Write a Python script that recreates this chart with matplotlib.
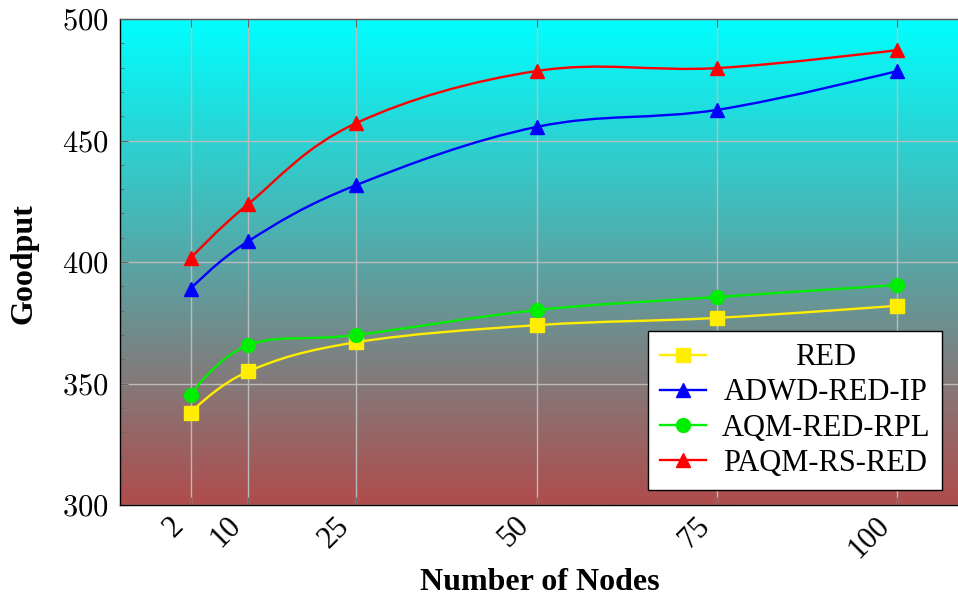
import numpy as np
import matplotlib.pyplot as plt
import matplotlib.transforms as mtransforms
from matplotlib.path import Path
from matplotlib.patches import PathPatch
from matplotlib.colors import LinearSegmentedColormap

plt.rcParams['font.family'] = ['Liberation Serif', 'DejaVu Serif']
plt.rcParams['mathtext.fontset'] = 'cm'

# Data
nodes = [2, 10, 25, 50, 75, 100]
red = [338, 355, 367, 374, 377, 382]
adwd = [389, 408.6, 431.7, 455.6, 462.6, 478.6]
aqm = [345.3, 365.8, 370, 380.2, 385.6, 390.5]
paqm = [401.6, 423.9, 457.2, 478.6, 479.8, 487.2]
names = ['RED', 'ADWD-RED-IP', 'AQM-RED-RPL', 'PAQM-RS-RED']
yticks = [300, 350, 400, 450, 500]


def smooth_path(x, y, tension=0.55):
    """Cubic bezier through the points, like pgfplots 'smooth'."""
    p = np.column_stack([x, y]).astype(float)
    k = tension / 3.0
    verts = [p[0]]
    codes = [Path.MOVETO]
    for i in range(len(p) - 1):
        d0 = p[min(i + 1, len(p) - 1)] - p[max(i - 1, 0)]
        d1 = p[min(i + 2, len(p) - 1)] - p[i]
        c1 = p[i] + k * d0 if i > 0 else p[i]
        c2 = p[i + 1] - k * d1 if i + 1 < len(p) - 1 else p[i + 1]
        verts += [c1, c2, p[i + 1]]
        codes += [Path.CURVE4] * 3
    return Path(verts, codes)


fig = plt.figure(figsize=(9.58, 6.01), dpi=100)
ax = fig.add_axes([120 / 958, 1 - 505 / 601, 840 / 958, 486 / 601])
ax.set_xlim(-7.8, 108.7)
ax.set_ylim(300, 500)

# background gradient, cyan on top to dull red at the bottom
cmap = LinearSegmentedColormap.from_list('bg', ['#B04C4C', '#00FFFF'])
grad = np.linspace(0, 1, 256).reshape(-1, 1)
ax.imshow(grad, cmap=cmap, aspect='auto', origin='lower',
          extent=[-7.8, 108.7, 300, 500], zorder=0)

styles = [
    ('#FFEE00', 's', 10),
    ('#0000FF', '^', 10),
    ('#00EE00', 'o', 10),
    ('#FF0000', '^', 10),
]
for ys, name, (c, m, ms) in zip([red, adwd, aqm, paqm], names, styles):
    ax.add_patch(PathPatch(smooth_path(nodes, ys), fill=False, edgecolor=c,
                           lw=1.7, zorder=3))
    ax.plot(nodes, ys, ls='none', marker=m, color=c, ms=ms, zorder=4)
    ax.plot([], [], color=c, marker=m, ms=ms, lw=1.7, label=name)

ax.set_xticks(nodes)
ax.set_xticklabels([str(n) for n in nodes], rotation=45, ha='right',
                   va='center', rotation_mode='anchor', fontsize=22)
ax.set_yticks(yticks)
ax.set_yticklabels([f'${v}$' for v in yticks], fontsize=22)
ax.set_yticks(np.arange(300, 501, 10), minor=True)
ax.tick_params(axis='both', which='both', direction='in', color='#666666')
ax.tick_params(axis='both', which='major', length=6)
ax.tick_params(axis='x', which='major', pad=12)
ax.tick_params(axis='y', which='major', pad=8)
ax.tick_params(axis='y', which='minor', length=3)
ax.tick_params(top=True)
# nudge the rotated x labels left, after tick_params (it resets transforms)
shift = mtransforms.ScaledTranslation(-12 / 100, 0, fig.dpi_scale_trans)
for lab in ax.get_xticklabels():
    lab.set_transform(lab.get_transform() + shift)
ax.grid(True, which='major', color='#BBBBBB', lw=1.0)
ax.set_axisbelow(True)
for s in ax.spines.values():
    s.set_linewidth(1.0)
ax.spines['top'].set_color('#555555')

ax.set_xlabel('Number of Nodes', fontsize=23, fontweight='bold', va='baseline')
ax.xaxis.set_label_coords(0.5, (505 - 590) / 486)
ax.set_ylabel('Goodput', fontsize=23, fontweight='bold')
ax.yaxis.set_label_coords((39 - 120) / 840, 0.497)

leg = ax.legend(loc='lower right', bbox_to_anchor=(0.9786, 0.031),
                borderaxespad=0, fontsize=22, fancybox=False, framealpha=1,
                edgecolor='black', handlelength=1.5, labelspacing=0.2,
                borderpad=0.4, handletextpad=0.5)
leg.get_frame().set_linewidth(1.0)
leg.set_zorder(10)
# centre the legend texts like pgfplots does
fig.canvas.draw()
texts = leg.get_texts()
wmax = max(t.get_window_extent().width for t in texts)
for t in texts:
    w = t.get_window_extent().width
    x, y = t.get_position()
    t.set_position((x + (wmax - w) / 2, y))

fig.savefig('out.png', dpi=100)
